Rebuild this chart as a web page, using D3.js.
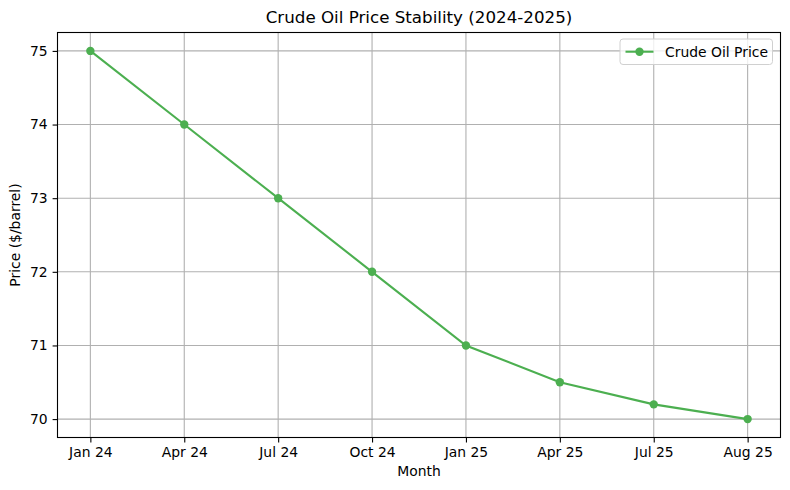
<!DOCTYPE html>
<html><head><meta charset="utf-8">
<script src="https://cdn.jsdelivr.net/npm/d3@7"></script>
<style>
body{margin:0;background:#fff;}
svg{font-family:"DejaVu Sans",sans-serif;}
</style></head>
<body><svg id="c" width="790" height="490"></svg>
<script>
const months = ["Jan 24","Apr 24","Jul 24","Oct 24","Jan 25","Apr 25","Jul 25","Aug 25"];
const prices = [75, 74, 73, 72, 71, 70.5, 70.2, 70];
const yTicks = [70, 71, 72, 73, 74, 75];
const title = "Crude Oil Price Stability (2024-2025)";
const seriesName = "Crude Oil Price";

const svg = d3.select("#c");
const L = 57.5, R = 780.5, T = 32.5, B = 437.5;
const color = "#4caf50";

const x = d3.scaleLinear().domain([-0.35, months.length - 1 + 0.35]).range([L, R]);
const ymin = d3.min(prices), ymax = d3.max(prices), pad = (ymax - ymin) * 0.05;
const y = d3.scaleLinear().domain([ymin - pad, ymax + pad]).range([B, T]);

// grid
const g = svg.append("g");
g.selectAll(".vg").data(months).enter().append("line")
  .attr("x1", (d,i)=>x(i)).attr("x2", (d,i)=>x(i)).attr("y1", T).attr("y2", B)
  .attr("stroke", "#b0b0b0").attr("stroke-width", 1.1);
g.selectAll(".hg").data(yTicks).enter().append("line")
  .attr("x1", L).attr("x2", R).attr("y1", d=>y(d)).attr("y2", d=>y(d))
  .attr("stroke", "#b0b0b0").attr("stroke-width", 1.1);

// axes
const xAxis = d3.axisBottom(x).tickValues(d3.range(months.length)).tickFormat(i=>months[i]).tickSize(4.9).tickPadding(4.9);
const yAxis = d3.axisLeft(y).tickValues(yTicks).tickFormat(d3.format("d")).tickSize(4.9).tickPadding(4.9);
const gx = svg.append("g").attr("transform", `translate(0,${B})`).call(xAxis);
const gy = svg.append("g").attr("transform", `translate(${L},0)`).call(yAxis);
[gx, gy].forEach(a=>{
  a.select(".domain").remove();
  a.selectAll("text").attr("font-size", 13.9).attr("fill", "#000").attr("font-family", "DejaVu Sans");
  a.selectAll("line").attr("stroke", "#000").attr("stroke-width", 1.1);
});

// line
const line = d3.line().x((d,i)=>x(i)).y(d=>y(d));
svg.append("path").datum(prices).attr("d", line).attr("fill", "none")
  .attr("stroke", color).attr("stroke-width", 2.1);
svg.selectAll(".pt").data(prices).enter().append("circle")
  .attr("cx", (d,i)=>x(i)).attr("cy", d=>y(d)).attr("r", 4.2).attr("fill", color);

// frame
svg.append("rect").attr("x", L).attr("y", T).attr("width", R-L).attr("height", B-T)
  .attr("fill", "none").attr("stroke", "#000").attr("stroke-width", 1.1);

// title & labels
svg.append("text").attr("x", (L+R)/2).attr("y", 23).attr("text-anchor", "middle")
  .attr("font-size", 16.7).text(title);
svg.append("text").attr("x", (L+R)/2).attr("y", 476).attr("text-anchor", "middle")
  .attr("font-size", 13.9).text("Month");
svg.append("text").attr("transform", `translate(20,${(T+B)/2}) rotate(-90)`).attr("text-anchor", "middle")
  .attr("font-size", 13.9).text("Price ($/barrel)");

// legend
const lg = svg.append("g");
lg.append("rect").attr("x", 620).attr("y", 39).attr("width", 152.5).attr("height", 25.5).attr("rx", 3)
  .attr("fill", "#fff").attr("fill-opacity", 0.8).attr("stroke", "#d0d0d0").attr("stroke-width", 1);
lg.append("line").attr("x1", 625.5).attr("x2", 653.5).attr("y1", 51.7).attr("y2", 51.7)
  .attr("stroke", color).attr("stroke-width", 2.1);
lg.append("circle").attr("cx", 639.5).attr("cy", 51.7).attr("r", 4.2).attr("fill", color);
lg.append("text").attr("x", 665).attr("y", 56.7).attr("font-size", 13.9).text(seriesName);
</script></body></html>
